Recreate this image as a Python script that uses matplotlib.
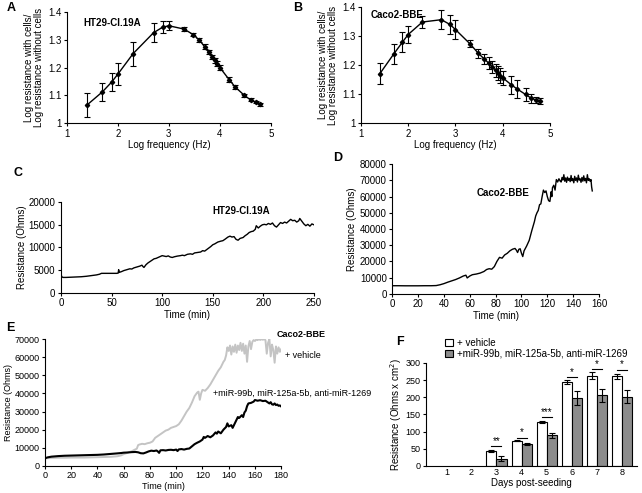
import numpy as np
import matplotlib
matplotlib.use('Agg')
import matplotlib.pyplot as plt

plt.rcParams['font.family'] = ['Liberation Sans', 'DejaVu Sans']
plt.rcParams['font.size'] = 7
plt.rcParams['axes.linewidth'] = 0.8
plt.rcParams['xtick.direction'] = 'out'
plt.rcParams['ytick.direction'] = 'out'
plt.rcParams['xtick.major.size'] = 2.5
plt.rcParams['ytick.major.size'] = 2.5

# ---- A / B: impedance spectra ----
log_freq = [1.40, 1.70, 1.88, 2.00, 2.30, 2.70, 2.88, 3.00, 3.30, 3.48, 3.60, 3.70,
            3.78, 3.85, 3.90, 3.95, 4.00, 4.18, 4.30, 4.48, 4.60, 4.70, 4.78]
ht29_ratio = [1.066, 1.113, 1.148, 1.176, 1.250, 1.325, 1.345, 1.350, 1.338, 1.318, 1.298, 1.275,
              1.255, 1.238, 1.226, 1.213, 1.200, 1.157, 1.130, 1.100, 1.084, 1.076, 1.068]
ht29_err = [0.043, 0.033, 0.034, 0.040, 0.043, 0.035, 0.022, 0.016, 0.006, 0.005, 0.008, 0.008,
            0.008, 0.008, 0.008, 0.009, 0.010, 0.008, 0.007, 0.005, 0.005, 0.005, 0.005]
caco_ratio = [1.170, 1.239, 1.279, 1.305, 1.348, 1.356, 1.340, 1.322, 1.274, 1.241, 1.222, 1.207,
              1.193, 1.182, 1.172, 1.164, 1.156, 1.132, 1.118, 1.099, 1.086, 1.080, 1.076]
caco_err = [0.036, 0.035, 0.033, 0.028, 0.020, 0.033, 0.033, 0.032, 0.012, 0.015, 0.017, 0.020,
            0.020, 0.022, 0.025, 0.025, 0.025, 0.030, 0.030, 0.022, 0.015, 0.010, 0.010]

# ---- C: HT29-Cl.19A resistance over time ----
c_time = [0, 0.5, 1, 2, 5, 10, 15, 20, 25, 30, 35, 38, 40, 45, 50, 55, 56.5, 57, 57.5, 60, 62, 65,
          68, 70, 72, 75, 78, 80, 81, 82, 84, 86, 88, 90, 92, 94, 96, 98, 100, 102, 104, 106, 108,
          110, 112, 115, 118, 120, 122, 125, 128, 130, 132, 135, 138, 140, 142, 145, 148, 150, 152,
          155, 158, 160, 162, 165, 167, 169, 171, 173, 175, 177, 180, 182, 184, 186, 188, 190, 192,
          193, 195, 197, 199, 201, 203, 205, 207, 209, 211, 213, 215, 217, 219, 221, 223, 225, 227,
          229, 231, 233, 235, 236, 238, 240, 242, 244, 246, 248, 250]
c_res = [4300, 3700, 3500, 3400, 3400, 3450, 3500, 3550, 3650, 3800, 3950, 4100, 4300, 4300, 4300,
         4300, 4350, 5100, 4500, 4700, 4900, 5100, 5300, 5250, 5500, 5700, 5900, 6100, 5800, 5600,
         6200, 6600, 6900, 7200, 7500, 7600, 7800, 8000, 8200, 8100, 8000, 8150, 7900, 7800, 7950,
         8100, 8200, 8300, 8200, 8500, 8600, 8500, 8800, 8900, 9000, 9300, 9200, 9700, 10200, 10600,
         10800, 11200, 11400, 11500, 11800, 12300, 12500, 12300, 12400, 11800, 11600, 12000, 12200,
         12600, 12900, 13300, 13500, 13600, 14000, 14800, 14300, 14700, 15000, 15100, 15000, 15300,
         15100, 15400, 14800, 14500, 15000, 15500, 15300, 15600, 15400, 15800, 16200, 15900, 16000,
         15600, 15900, 16400, 15800, 15200, 14800, 15100, 14700, 15200, 15000]

# ---- D: Caco2-BBE resistance over time ----
d_time = [0, 5, 10, 15, 20, 25, 30, 34, 37, 40, 43, 46, 49, 52, 55, 57, 58, 60, 62, 65, 68, 71, 73,
          75, 77, 79, 81, 83, 85, 87, 89, 91, 93, 95, 96, 97, 98, 99, 100, 101, 102, 104, 106, 108,
          110, 111, 112, 113, 114, 115, 116, 117, 118, 119, 120, 121, 122, 123, 123.5, 124, 125,
          126, 127, 128, 129, 130, 130.7, 131.4, 132.1, 132.8, 133.5, 134.2, 134.9, 135.6, 136.3,
          137, 137.7, 138.4, 139.1, 139.8, 140.5, 141.2, 141.9, 142.6, 143.3, 144, 144.7, 145.4,
          146.1, 146.8, 147.5, 148.2, 148.9, 149.6, 150.3, 151, 151.7, 152.4, 153.1, 153.8, 154.3,
          154.8]
d_res = [5000, 5000, 4950, 4950, 4950, 5000, 5000, 5100, 5600, 6300, 7200, 8000, 8800, 9800, 11000,
         11500, 9800, 11000, 11800, 12200, 12800, 13800, 15000, 15500, 15200, 16800, 20000, 22500,
         22000, 24000, 25000, 26500, 27500, 28000, 27000, 25500, 27500, 27800, 25000, 23000, 26500,
         29500, 33000, 39000, 44500, 48000, 50000, 51500, 55000, 55500, 60000, 64000, 62500, 63500,
         60000, 57500, 57000, 63000, 60000, 65500, 67000, 64000, 70500, 69000, 71000, 69500,
         69000, 71800, 70200, 73500, 69500, 71500, 68800, 72000, 70000, 71200, 69200, 73000, 69800,
         71000, 68500, 72500, 70000, 71500, 69000, 73200, 70200, 71000, 68800, 71800, 69500, 72800,
         69800, 71200, 68500, 73500, 70000, 71000, 69500, 70500, 66000, 63500]

# ---- E: vehicle vs miRNA treatment ----
e_time_mir = [0, 2, 5, 10, 15, 20, 25, 30, 35, 40, 45, 50, 55, 58, 60, 63, 66, 69, 71, 73, 75, 77,
              79, 81, 83, 85, 86, 87, 88, 90, 92, 94, 96, 98, 100, 101, 102, 104, 106, 108, 110, 112,
              114, 116, 118, 120, 121, 122, 124, 126, 128, 130, 131, 132, 134, 136, 138, 139, 140,
              142, 143, 145, 147, 148, 150, 151, 152, 153, 154, 155, 157, 159, 160, 162, 164, 166,
              168, 170, 171, 172, 173, 174, 175, 176, 177, 178, 179, 180]
e_res_mir = [4200, 4700, 5100, 5400, 5600, 5700, 5800, 5900, 6000, 6100, 6300, 6600, 6900, 7100,
             7300, 7400, 7600, 7700, 7500, 7000, 6900, 7400, 8000, 8400, 8200, 8500, 8000, 7200, 8600,
             8700, 8500, 8800, 8900, 8700, 9000, 8200, 9100, 9300, 9000, 9400, 9600, 10800, 12000,
             12800, 13500, 14500, 16000, 15500, 16500, 15800, 16800, 18500, 17800, 19000, 18000,
             20000, 21500, 23500, 21800, 22500, 21000, 24000, 27000, 26500, 28000, 27000, 29500,
             30500, 33000, 34500, 34800, 35500, 36400, 36000, 36300, 35800, 36000, 35000, 34500,
             35200, 34000, 33800, 34500, 33600, 33900, 33200, 33400, 32800]
e_time_veh = [0, 5, 10, 15, 20, 25, 30, 35, 40, 45, 50, 55, 58, 60, 62, 64, 66, 68, 70, 71, 72, 74,
              76, 78, 80, 82, 84, 86, 88, 90, 92, 94, 96, 98, 100, 102, 104, 106, 108, 110, 112, 114,
              116, 117, 118, 119, 120, 122, 124, 126, 128, 130, 132, 134, 136, 137, 138, 139, 140,
              141, 142, 143, 144, 145, 146, 147, 148, 149, 150, 151, 152, 153, 154, 155, 156, 157,
              158, 159, 160, 161, 162, 163, 164, 165, 166, 167, 168, 169, 170, 171, 172, 173, 174,
              175, 176, 177, 178, 179, 180]
e_res_veh = [4200, 4400, 4500, 4500, 4600, 4600, 4600, 4700, 4800, 4900, 5000, 5300, 5800, 6500,
             7000, 7600, 8000, 8800, 9500, 11500, 11800, 12200, 12000, 12500, 12800, 13500, 15500,
             16500, 17500, 18500, 19500, 20000, 21000, 21500, 22000, 23000, 25000, 27500, 30000,
             32000, 35000, 38500, 40500, 41000, 36500, 40000, 42000, 41500, 43000, 45000, 47500,
             50000, 52500, 54500, 57500, 58500, 61000, 65500, 63500, 66500, 61500, 66000, 63000,
             67000, 62500, 66500, 64000, 68000, 63500, 67500, 62000, 66500, 57500, 66000, 69000,
             64500, 68500, 69500, 69000, 69800, 69500, 70000, 69600, 70000, 69700, 70000, 69500,
             62000, 68000, 70000, 60500, 67000, 64000, 57000, 66000, 62000, 65500, 63000, 64500]

# ---- F: TER by day ----
days = [1, 2, 3, 4, 5, 6, 7, 8]
veh_day = [3, 4, 5, 6, 7, 8]
veh_ter = [43, 73, 129, 243, 263, 261]
veh_sd = [3, 2, 3, 6, 9, 7]
mir_ter = [21.5, 63.5, 89, 197, 205, 202]
mir_sd = [6, 2, 8, 20, 19, 18]
sig_level = [58, 82, 142, 259, 282, 280]
sig_stars = ['**', '*', '***', '*', '*', '*']

fig = plt.figure(figsize=(6.42, 4.93), dpi=100)


def clean(ax, size=7):
    ax.spines['top'].set_visible(False)
    ax.spines['right'].set_visible(False)
    ax.tick_params(labelsize=size, pad=1.5, width=0.8)


def impedance_panel(ax, y, err, name, label_xy):
    ax.errorbar(log_freq, y, yerr=err, color='black', lw=1, marker='D', ms=2.2,
                elinewidth=0.8, capsize=2, capthick=0.8)
    ax.set_xlim(1, 5)
    ax.set_ylim(1, 1.4)
    ax.set_xticks([1, 2, 3, 4, 5])
    ax.set_yticks([1, 1.1, 1.2, 1.3, 1.4])
    ax.set_yticklabels(['1', '1.1', '1.2', '1.3', '1.4'])
    ax.set_xlabel('Log frequency (Hz)', fontsize=7, labelpad=1)
    ax.set_ylabel('Log resistance with cells/\nLog resistance without cells', fontsize=7,
                  labelpad=3, linespacing=1.0)
    ax.text(label_xy[0], label_xy[1], name, transform=ax.transAxes, fontsize=7,
            fontweight='bold', va='center')
    clean(ax)


axA = fig.add_axes([0.104, 0.750, 0.318, 0.226])
impedance_panel(axA, ht29_ratio, ht29_err, 'HT29-Cl.19A', (0.08, 0.9))
axB = fig.add_axes([0.562, 0.750, 0.295, 0.236])
impedance_panel(axB, caco_ratio, caco_err, 'Caco2-BBE', (0.05, 0.93))

axC = fig.add_axes([0.095, 0.406, 0.394, 0.184])
axC.plot(c_time, c_res, color='black', lw=1)
axC.set_xlim(0, 250)
axC.set_ylim(0, 20000)
axC.set_yticks([0, 5000, 10000, 15000, 20000])
axC.set_xlabel('Time (min)', fontsize=7, labelpad=1)
axC.set_ylabel('Resistance (Ohms)', fontsize=7, labelpad=1)
axC.text(0.6, 0.9, 'HT29-Cl.19A', transform=axC.transAxes, fontsize=7, fontweight='bold',
         va='center')
clean(axC)

axD = fig.add_axes([0.611, 0.404, 0.322, 0.263])
axD.plot(d_time, d_res, color='black', lw=1)
axD.set_xlim(0, 160)
axD.set_ylim(0, 80000)
axD.set_xticks(np.arange(0, 161, 20))
axD.set_yticks(np.arange(0, 80001, 10000))
axD.set_xlabel('Time (min)', fontsize=7, labelpad=1)
axD.set_ylabel('Resistance (Ohms)', fontsize=7, labelpad=2)
axD.text(0.41, 0.78, 'Caco2-BBE', transform=axD.transAxes, fontsize=7, fontweight='bold',
         va='center')
clean(axD)

axE = fig.add_axes([0.070, 0.055, 0.368, 0.257])
axE.plot(e_time_veh, e_res_veh, color='#c4c4c4', lw=1.4)
axE.plot(e_time_mir, e_res_mir, color='black', lw=1.5)
axE.set_xlim(0, 180)
axE.set_ylim(0, 70000)
axE.set_xticks(np.arange(0, 181, 20))
axE.set_yticks(np.arange(0, 70001, 10000))
axE.set_xlabel('Time (min)', fontsize=6.5, labelpad=1)
axE.set_ylabel('Resistance (Ohms)', fontsize=6.5, labelpad=1)
axE.text(0.982, 1.04, 'Caco2-BBE', transform=axE.transAxes, fontsize=6.5, fontweight='bold',
         va='center')
axE.text(1.017, 0.874, '+ vehicle', transform=axE.transAxes, fontsize=6.5, va='center')
axE.text(0.71, 0.575, '+miR-99b, miR-125a-5b, anti-miR-1269', transform=axE.transAxes,
         fontsize=6.5, va='center')
clean(axE, 6.5)

axF = fig.add_axes([0.664, 0.055, 0.328, 0.209])
w = 0.4
vx = np.array(veh_day)
axF.bar(vx - w / 2, veh_ter, w, yerr=veh_sd, color='white', edgecolor='black', lw=0.8,
        error_kw=dict(elinewidth=0.8, capsize=2, capthick=0.8), label='+ vehicle')
axF.bar(vx + w / 2, mir_ter, w, yerr=mir_sd, color='#8c8c8c', edgecolor='black', lw=0.8,
        error_kw=dict(elinewidth=0.8, capsize=2, capthick=0.8),
        label='+miR-99b, miR-125a-5b, anti-miR-1269')
for d, lvl, st in zip(veh_day, sig_level, sig_stars):
    axF.plot([d - w / 2, d + w / 2], [lvl, lvl], color='black', lw=0.8)
    axF.text(d, lvl + 1, st, ha='center', va='bottom', fontsize=7)
axF.set_xlim(0.2, 8.6)
axF.set_ylim(0, 300)
axF.set_xticks(days)
axF.tick_params(axis='x', which='major', length=0)
axF.set_yticks(np.arange(0, 301, 50))
axF.set_xlabel('Days post-seeding', fontsize=7, labelpad=1)
axF.set_ylabel('Resistance (Ohms x cm$^2$)', fontsize=7, labelpad=1)
axF.legend(loc='lower left', bbox_to_anchor=(0.09, 1.04), frameon=False, fontsize=7,
           handlelength=0.8, handleheight=0.8, handletextpad=0.4, labelspacing=0.1,
           borderaxespad=0, borderpad=0)
clean(axF, 6.5)

for letter, x, y in [('A', 11, 8), ('B', 298, 8), ('C', 18, 173), ('D', 338, 158),
                     ('E', 10, 328), ('F', 400, 342)]:
    fig.text(x / 642, 1 - y / 493, letter, fontsize=9, fontweight='bold', ha='center',
             va='center')

fig.savefig('out.png', dpi=100)
